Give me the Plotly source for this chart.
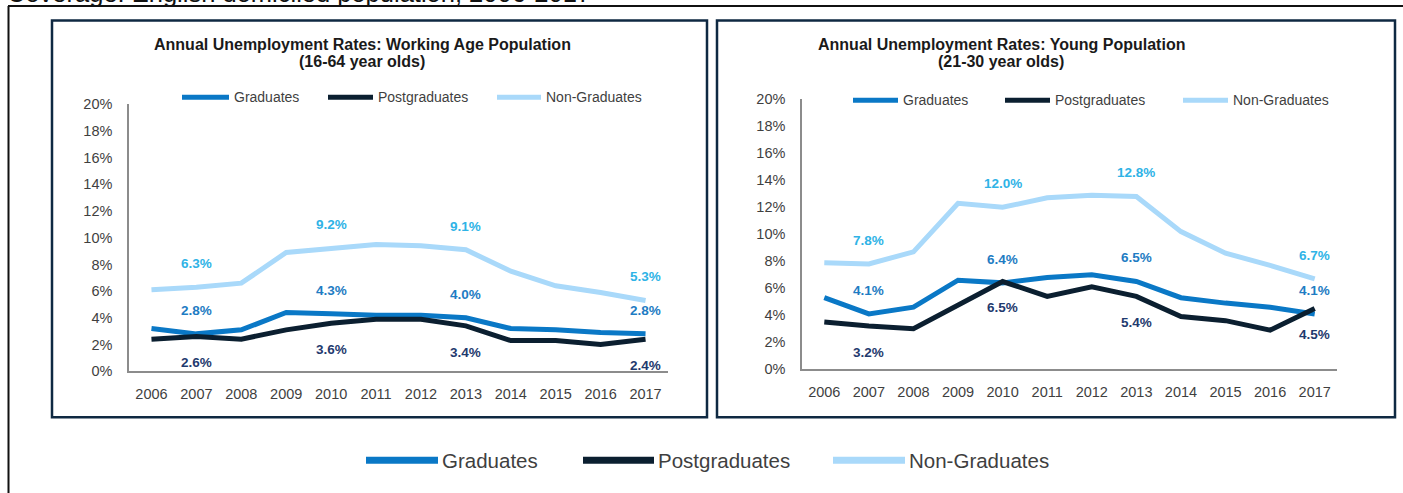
import plotly.graph_objects as go

W, H = 1403, 493

years = ["2006", "2007", "2008", "2009", "2010", "2011", "2012", "2013", "2014", "2015", "2016", "2017"]
series_names = ["Graduates", "Postgraduates", "Non-Graduates"]

# Working age population (16-64), %
wa_grad = [3.2, 2.8, 3.1, 4.4, 4.3, 4.2, 4.2, 4.0, 3.2, 3.1, 2.9, 2.8]
wa_post = [2.4, 2.6, 2.4, 3.1, 3.6, 3.9, 3.9, 3.4, 2.3, 2.3, 2.0, 2.4]
wa_non = [6.1, 6.3, 6.6, 8.9, 9.2, 9.5, 9.4, 9.1, 7.5, 6.4, 5.9, 5.3]

# Young population (21-30), %
yp_grad = [5.3, 4.1, 4.6, 6.6, 6.4, 6.8, 7.0, 6.5, 5.3, 4.9, 4.6, 4.1]
yp_post = [3.5, 3.2, 3.0, 4.8, 6.5, 5.4, 6.1, 5.4, 3.9, 3.6, 2.9, 4.5]
yp_non = [7.9, 7.8, 8.7, 12.3, 12.0, 12.7, 12.9, 12.8, 10.2, 8.6, 7.7, 6.7]

labelled_years = ["2007", "2010", "2013", "2017"]
y_ticks = [0, 2, 4, 6, 8, 10, 12, 14, 16, 18, 20]
y_ticklabels = [f"{v}%" for v in y_ticks]

title_lines = [
    ["Annual Unemployment Rates: Working Age Population", "(16-64 year olds)"],
    ["Annual Unemployment Rates: Young Population", "(21-30 year olds)"],
]
coverage_text = "Coverage: English domiciled population, 2006-2017"

line_colors = ["#0A78C6", "#0B1F30", "#A9D9FA"]
label_colors = ["#1E7CC3", "#1F3A6E", "#2FB3E6"]

FONT = "Liberation Sans, Arial, sans-serif"
TXT = "#3F3F3F"
NAVY = "#0F2942"

# vertical calibration of the capture (render_y = OFF + SCALE * figure_y)
OFF, SCALE = 7.6, 0.968
label_shift = [23 / SCALE, -25.5 / SCALE, 23 / SCALE]


def px(x):
    return x / W


def py(y):
    return 1 - ((y - OFF) / SCALE) / H


fig = go.Figure()

panels = [
    dict(data=[wa_grad, wa_post, wa_non], xa="x", ya="y",
         xdom=(129, 668), ydom=(104, 371), title_x=362,
         leg=[(182, 229), (328, 373), (497, 541)], leg_y=97),
    dict(data=[yp_grad, yp_post, yp_non], xa="x2", ya="y2",
         xdom=(802, 1337), ydom=(99, 369), title_x=1001,
         leg=[(853, 898), (1005, 1050), (1183, 1228)], leg_y=100),
]

shapes = []
annotations = []

for k, p in enumerate(panels):
    for i, name in enumerate(series_names):
        fig.add_trace(go.Scatter(
            x=years, y=p["data"][i], mode="lines", name=name,
            line=dict(color=line_colors[i], width=5),
            xaxis=p["xa"], yaxis=p["ya"], showlegend=False,
            hoverinfo="skip"))
        for yr in labelled_years:
            idx = years.index(yr)
            v = p["data"][i][idx]
            annotations.append(dict(
                x=idx, y=v, xref=p["xa"], yref=p["ya"], text=f"<b>{v:.1f}%</b>",
                showarrow=False, yshift=label_shift[i],
                font=dict(family=FONT, size=13.5, color=label_colors[i])))
        # in-chart legend
        x0, x1 = p["leg"][i]
        shapes.append(dict(type="line", xref="paper", yref="paper",
                           x0=px(x0), x1=px(x1), y0=py(p["leg_y"]), y1=py(p["leg_y"]),
                           line=dict(color=line_colors[i], width=5)))
        annotations.append(dict(x=px(x1 + 3), y=py(p["leg_y"]), xref="paper", yref="paper",
                                xanchor="left", yanchor="middle", text=name, showarrow=False,
                                font=dict(family=FONT, size=14, color=TXT)))
    for line_txt, ty in zip(title_lines[k], (44, 61)):
        annotations.append(dict(x=px(p["title_x"]), y=py(ty), xref="paper", yref="paper",
                                xanchor="center", yanchor="middle", text="<b>" + line_txt + "</b>",
                                showarrow=False,
                                font=dict(family=FONT, size=16, color="#1A1A1A")))

axis_common = dict(showline=True, linecolor="#8C8C8C", linewidth=1.5, showgrid=False,
                   zeroline=False, ticks="", tickfont=dict(family=FONT, size=14.5, color=TXT))

for k, p in enumerate(panels):
    sfx = "" if k == 0 else "2"
    fig.layout["xaxis" + sfx] = dict(
        axis_common, type="category", range=[-0.5, 11.5],
        domain=[px(p["xdom"][0]), px(p["xdom"][1])],
        anchor="y" + sfx, ticklabelstandoff=9)
    fig.layout["yaxis" + sfx] = dict(
        axis_common, range=[0, 20], tickmode="array", tickvals=y_ticks, ticktext=y_ticklabels,
        domain=[py(p["ydom"][1]), py(p["ydom"][0])],
        anchor="x" + sfx, ticklabelstandoff=12)

# Panel frames
for (x0, x1) in [(52, 707), (717, 1395)]:
    shapes.append(dict(type="rect", xref="paper", yref="paper",
                       x0=px(x0), x1=px(x1), y0=py(417), y1=py(20),
                       line=dict(color=NAVY, width=2.5)))
# Outer frame lines
shapes.append(dict(type="line", xref="paper", yref="paper", x0=px(8), x1=1.0,
                   y0=py(5.5), y1=py(5.5), line=dict(color="#111111", width=2)))
shapes.append(dict(type="line", xref="paper", yref="paper", x0=px(8.5), x1=px(8.5),
                   y0=py(5.5), y1=py(520), line=dict(color="#111111", width=2)))

# Bottom legend
bottom_leg = [(366, 438), (583, 654), (833, 905)]
for i, name in enumerate(series_names):
    x0, x1 = bottom_leg[i]
    shapes.append(dict(type="line", xref="paper", yref="paper",
                       x0=px(x0), x1=px(x1), y0=py(460), y1=py(460),
                       line=dict(color=line_colors[i], width=7)))
    annotations.append(dict(x=px(x1 + 2), y=py(460), xref="paper", yref="paper",
                            xanchor="left", yanchor="middle", text=name, showarrow=False,
                            font=dict(family=FONT, size=20.5, color=TXT)))

# Cropped coverage line at top
annotations.append(dict(x=px(5), y=py(8.5), xref="paper", yref="paper",
                        xanchor="left", yanchor="bottom", text=coverage_text, showarrow=False,
                        font=dict(family=FONT, size=25.5, color="#111111")))

fig.update_layout(
    width=W, height=H, margin=dict(l=0, r=0, t=0, b=0),
    paper_bgcolor="white", plot_bgcolor="white",
    shapes=shapes, annotations=annotations, showlegend=False)

post = (
    "document.documentElement.style.overflow='hidden';"
    "document.body.style.margin='0';document.body.style.padding='0';"
    "var gd=document.getElementById('{plot_id}');"
    "gd.style.position='fixed';gd.style.top='0px';gd.style.left='0px';"
)

fig.write_html("out.html", config={"displayModeBar": False}, post_script=post)
